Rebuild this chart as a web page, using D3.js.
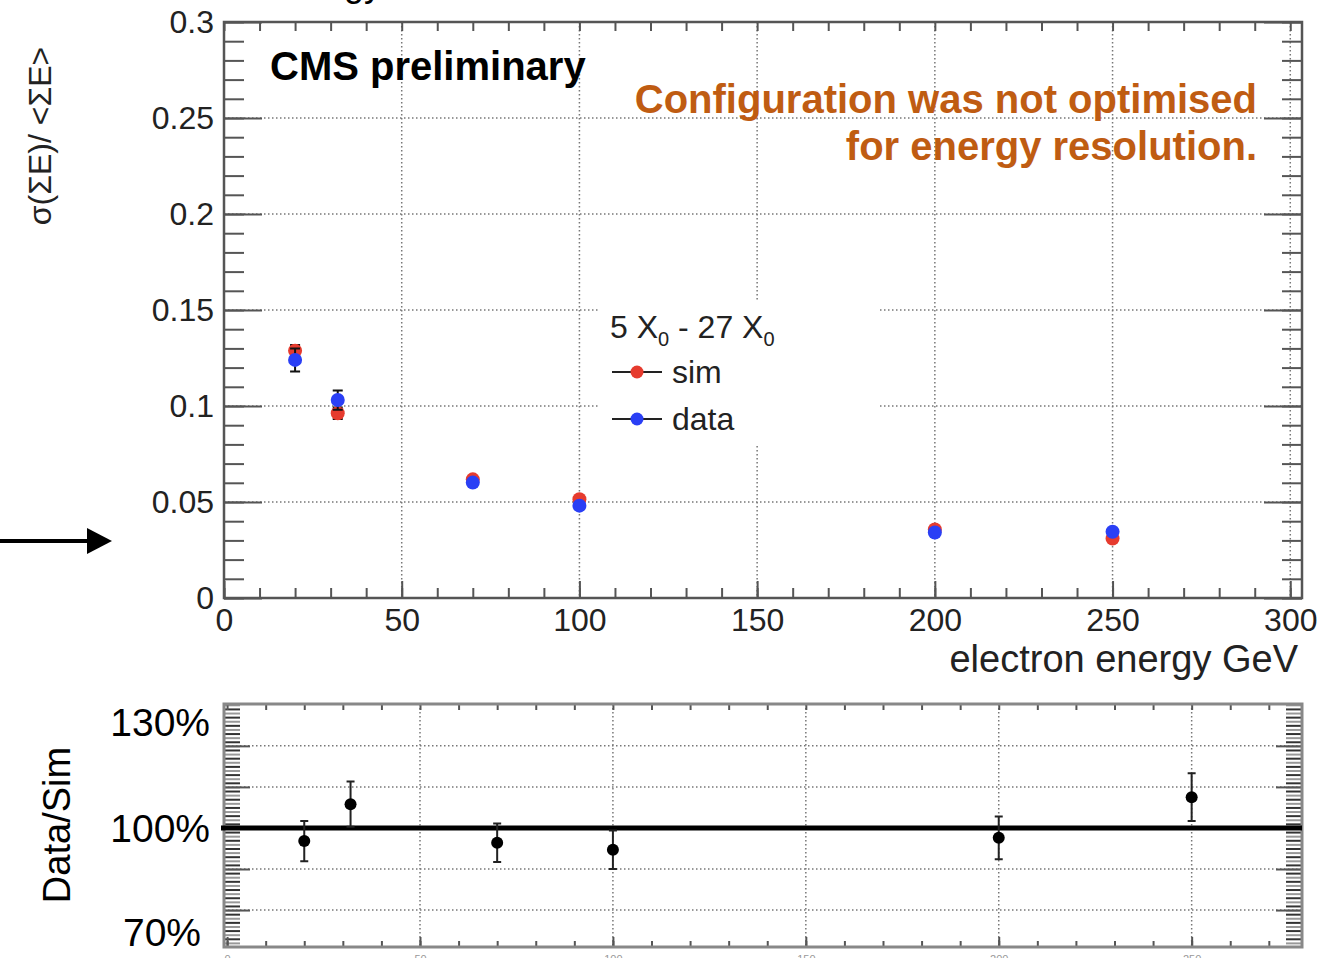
<!DOCTYPE html>
<html>
<head>
<meta charset="utf-8">
<script src="https://cdn.jsdelivr.net/npm/d3@7"></script>
<style>
body { margin: 0; background: #fff; }
text { font-family: "Liberation Sans", Arial, sans-serif; }
.grid { stroke: #777; stroke-width: 1.5; stroke-dasharray: 1.5,2.5; }
.axis path { display: none; }
.axis line { stroke: #555; stroke-width: 2; }
.axis text { fill: #222; }
</style>
</head>
<body>
<div id="chart"></div>
<script>

// beam energies (GeV)
var energies = [20, 32, 70, 100, 200, 250];
// sigma(E)/<E>
var simRes = [0.1288, 0.0962, 0.0618, 0.0514, 0.0357, 0.0310];
var simErr = [0.003, 0.003, 0.0015, 0.0015, 0.0015, 0.0015];
var dataRes = [0.1240, 0.1031, 0.0601, 0.0481, 0.0341, 0.0345];
var dataErr = [0.006, 0.005, 0.0015, 0.0015, 0.0015, 0.0015];
// data / sim ratio panel
var ratio = [0.968, 1.058, 0.964, 0.947, 0.976, 1.075];
var ratioErr = [0.049, 0.055, 0.047, 0.047, 0.052, 0.058];

var xTicks = [0, 50, 100, 150, 200, 250, 300];
var yTicks = [0, 0.05, 0.1, 0.15, 0.2, 0.25, 0.3];
var ratioGrid = [0.8, 0.9, 1.1, 1.2];
var ratioLabels = [{v: 1.3, t: "130%"}, {v: 1.0, t: "100%"}, {v: 0.7, t: "70%"}];
var legendItems = [{name: "sim", colour: "#e63b2e"}, {name: "data", colour: "#2a3ff5"}];

var width = 1328,
height = 958;

var svg = d3.select("#chart")
.append("svg")
.attr("width", width)
.attr("height", height);

// ---------------- main panel ----------------
var main = {left: 224, right: 1302, top: 22, bottom: 598};

var x = d3.scaleLinear()
.domain([0, 303.3])
.range([main.left, main.right]);

var y = d3.scaleLinear()
.domain([0, 0.3])
.range([main.bottom, main.top]);

// cut off title at the very top
svg.append("text")
.attr("x", 268)
.attr("y", -4)
.style("font-size", "36px")
.text("Energy resolution");

// grid
svg.selectAll(".vgrid")
.data(xTicks.slice(1))
.enter()
.append("line")
.attr("class", "grid vgrid")
.attr("x1", function(d){ return x(d); })
.attr("x2", function(d){ return x(d); })
.attr("y1", main.top)
.attr("y2", main.bottom);

svg.selectAll(".hgrid")
.data(yTicks.slice(1, -1))
.enter()
.append("line")
.attr("class", "grid hgrid")
.attr("x1", main.left)
.attr("x2", main.right)
.attr("y1", function(d){ return y(d); })
.attr("y2", function(d){ return y(d); });

// axes, ticks pointing inwards like ROOT
var fmt = function(d){ return String(+d.toFixed(2)); };

svg.append("g")
.attr("class", "axis")
.attr("transform", "translate(" + main.left + ",0)")
.call(d3.axisLeft(y).tickValues(d3.range(0, 0.3001, 0.01)).tickSize(-20).tickFormat(""));
svg.append("g")
.attr("class", "axis")
.attr("transform", "translate(" + main.left + ",0)")
.call(d3.axisLeft(y).tickValues(yTicks).tickSize(-38).tickPadding(10).tickFormat(fmt))
.selectAll("text")
.style("font-size", "32px");

svg.append("g")
.attr("class", "axis")
.attr("transform", "translate(" + main.right + ",0)")
.call(d3.axisRight(y).tickValues(d3.range(0, 0.3001, 0.01)).tickSize(-20).tickFormat(""));
svg.append("g")
.attr("class", "axis")
.attr("transform", "translate(" + main.right + ",0)")
.call(d3.axisRight(y).tickValues(yTicks).tickSize(-38).tickFormat(""));

svg.append("g")
.attr("class", "axis")
.attr("transform", "translate(0," + main.bottom + ")")
.call(d3.axisBottom(x).tickValues(d3.range(0, 301, 10)).tickSize(-10).tickFormat(""));
svg.append("g")
.attr("class", "axis")
.attr("transform", "translate(0," + main.bottom + ")")
.call(d3.axisBottom(x).tickValues(xTicks).tickSize(-17).tickPadding(10).tickFormat(fmt))
.selectAll("text")
.style("font-size", "32px");

svg.append("g")
.attr("class", "axis")
.attr("transform", "translate(0," + main.top + ")")
.call(d3.axisTop(x).tickValues(d3.range(0, 301, 10)).tickSize(-9).tickFormat(""));

// frame
svg.append("rect")
.attr("x", main.left)
.attr("y", main.top)
.attr("width", main.right - main.left)
.attr("height", main.bottom - main.top)
.style("fill", "none")
.style("stroke", "#555")
.style("stroke-width", 2.5);

// axis titles
svg.append("text")
.attr("transform", "translate(" + (main.right - 4) + ",672)")
.attr("text-anchor", "end")
.style("font-size", "38px")
.style("fill", "#222")
.text("electron energy GeV");

svg.append("text")
.attr("transform", "translate(51,136) rotate(-90)")
.attr("text-anchor", "middle")
.style("font-size", "32px")
.style("fill", "#222")
.text("σ(ΣE)/ <ΣE>");

// annotations
svg.append("text")
.attr("x", 270)
.attr("y", 80)
.style("font-size", "40px")
.style("font-weight", "bold")
.text("CMS preliminary");

var note = svg.append("text")
.attr("text-anchor", "end")
.style("font-size", "40px")
.style("font-weight", "bold")
.style("fill", "#bf5c12");
note.append("tspan").attr("x", 1257).attr("y", 113).text("Configuration was not optimised");
note.append("tspan").attr("x", 1257).attr("y", 160).text("for energy resolution.");

// legend (white box hides the grid)
var legend = svg.append("g");
legend.append("rect")
.attr("x", 598)
.attr("y", 302)
.attr("width", 282)
.attr("height", 143)
.style("fill", "#fff");

var lt = legend.append("text")
.attr("x", 610)
.attr("y", 338)
.style("font-size", "32px")
.style("fill", "#222");
lt.append("tspan").text("5 X");
lt.append("tspan").attr("dy", 8).style("font-size", "20px").text("0");
lt.append("tspan").attr("dy", -8).text(" - 27 X");
lt.append("tspan").attr("dy", 8).style("font-size", "20px").text("0");

var li = legend.selectAll(".li")
.data(legendItems)
.enter()
.append("g")
.attr("class", "li")
.attr("transform", function(d, i){ return "translate(0," + (372 + i * 47) + ")"; });
li.append("line")
.attr("x1", 612)
.attr("x2", 662)
.style("stroke", "#222")
.style("stroke-width", 2);
li.append("circle")
.attr("cx", 637)
.attr("r", 6.5)
.style("fill", function(d){ return d.colour; });
li.append("text")
.attr("x", 672)
.attr("y", 11)
.style("font-size", "32px")
.style("fill", "#222")
.text(function(d){ return d.name; });

// error bars + markers
function drawSeries(vals, errs, colour) {
  var g = svg.append("g");
  var pts = energies.map(function(e, i){ return {e: e, v: vals[i], err: errs[i]}; });
  g.selectAll(".eb")
  .data(pts)
  .enter()
  .append("path")
  .attr("d", function(d){
    var cx = x(d.e), y1 = y(d.v + d.err), y2 = y(d.v - d.err);
    return "M" + cx + "," + y1 + "V" + y2 + "M" + (cx - 5) + "," + y1 + "H" + (cx + 5) + "M" + (cx - 5) + "," + y2 + "H" + (cx + 5);
  })
  .style("stroke", "#111")
  .style("stroke-width", 2)
  .style("fill", "none");
  g.selectAll("circle")
  .data(pts)
  .enter()
  .append("circle")
  .attr("cx", function(d){ return x(d.e); })
  .attr("cy", function(d){ return y(d.v); })
  .attr("r", 7)
  .style("fill", colour);
}
drawSeries(simRes, simErr, legendItems[0].colour);
drawSeries(dataRes, dataErr, legendItems[1].colour);

// arrow on the left
svg.append("line")
.attr("x1", 0)
.attr("x2", 90)
.attr("y1", 541)
.attr("y2", 541)
.style("stroke", "#000")
.style("stroke-width", 4);
svg.append("path")
.attr("d", "M87,528L112,541L87,554Z")
.style("fill", "#000");

// ---------------- ratio panel ----------------
var bot = {left: 224, right: 1302, top: 704, bottom: 947};

var xr = d3.scaleLinear()
.domain([-0.8, 278.6])
.range([bot.left, bot.right]);

var yr = d3.scaleLinear()
.domain([0.71, 1.302])
.range([bot.bottom, bot.top]);

svg.selectAll(".rvgrid")
.data(xTicks.slice(1, -1))
.enter()
.append("line")
.attr("class", "grid rvgrid")
.attr("x1", function(d){ return xr(d); })
.attr("x2", function(d){ return xr(d); })
.attr("y1", bot.top)
.attr("y2", bot.bottom);

svg.selectAll(".rhgrid")
.data(ratioGrid)
.enter()
.append("line")
.attr("class", "grid rhgrid")
.attr("x1", bot.left)
.attr("x2", bot.right)
.attr("y1", function(d){ return yr(d); })
.attr("y2", function(d){ return yr(d); });

var rMinor = d3.range(0.72, 1.3001, 0.01);
[["L", bot.left, -16], ["R", bot.right, -16]].forEach(function(s){
  var ax = s[0] == "L" ? d3.axisLeft : d3.axisRight;
  svg.append("g")
  .attr("class", "axis")
  .attr("transform", "translate(" + s[1] + ",0)")
  .call(ax(yr).tickValues(rMinor).tickSize(s[2]).tickFormat(""))
  .selectAll("line")
  .style("stroke", function(d, i){ return i % 2 ? "#333" : "#999"; });
  svg.append("g")
  .attr("class", "axis")
  .attr("transform", "translate(" + s[1] + ",0)")
  .call(ax(yr).tickValues(ratioGrid).tickSize(-26).tickFormat(""));
});

svg.append("g")
.attr("class", "axis")
.attr("transform", "translate(0," + bot.top + ")")
.call(d3.axisTop(xr).tickValues(d3.range(0, 271, 10)).tickSize(-6).tickFormat(""));
svg.append("g")
.attr("class", "axis")
.attr("transform", "translate(0," + bot.bottom + ")")
.call(d3.axisBottom(xr).tickValues(d3.range(0, 271, 10)).tickSize(-6).tickFormat(""));
svg.append("g")
.attr("class", "axis")
.attr("transform", "translate(0," + bot.bottom + ")")
.call(d3.axisBottom(xr).tickValues(xTicks.slice(0, -1)).tickSize(-10).tickPadding(8).tickFormat(fmt))
.selectAll("text")
.style("font-size", "11px")
.style("fill", "#999");

svg.append("rect")
.attr("x", bot.left)
.attr("y", bot.top)
.attr("width", bot.right - bot.left)
.attr("height", bot.bottom - bot.top)
.style("fill", "none")
.style("stroke", "#888")
.style("stroke-width", 3);

// 100% line
svg.append("line")
.attr("x1", bot.left - 3)
.attr("x2", bot.right)
.attr("y1", yr(1))
.attr("y2", yr(1))
.style("stroke", "#000")
.style("stroke-width", 5);

var rp = energies.map(function(e, i){ return {e: e, v: ratio[i], err: ratioErr[i]}; });
svg.selectAll(".reb")
.data(rp)
.enter()
.append("path")
.attr("class", "reb")
.attr("d", function(d){
  var cx = xr(d.e), y1 = yr(d.v + d.err), y2 = yr(d.v - d.err);
  return "M" + cx + "," + y1 + "V" + y2 + "M" + (cx - 4) + "," + y1 + "H" + (cx + 4) + "M" + (cx - 4) + "," + y2 + "H" + (cx + 4);
})
.style("stroke", "#222")
.style("stroke-width", 2)
.style("fill", "none");
svg.selectAll(".rpt")
.data(rp)
.enter()
.append("circle")
.attr("class", "rpt")
.attr("cx", function(d){ return xr(d.e); })
.attr("cy", function(d){ return yr(d.v); })
.attr("r", 6)
.style("fill", "#000");

// percentage labels, kept inside the frame
svg.selectAll(".plab")
.data(ratioLabels)
.enter()
.append("text")
.attr("class", "plab")
.attr("x", function(d){ return d.v < 0.8 ? 201 : 210; })
.attr("y", function(d){ return Math.max(bot.top + 18, Math.min(bot.bottom - 15, yr(d.v))) + 14; })
.attr("text-anchor", "end")
.style("font-size", "39px")
.text(function(d){ return d.t; });

svg.append("text")
.attr("transform", "translate(70,825) rotate(-90)")
.attr("text-anchor", "middle")
.style("font-size", "38px")
.text("Data/Sim");

</script>
</body>
</html>
